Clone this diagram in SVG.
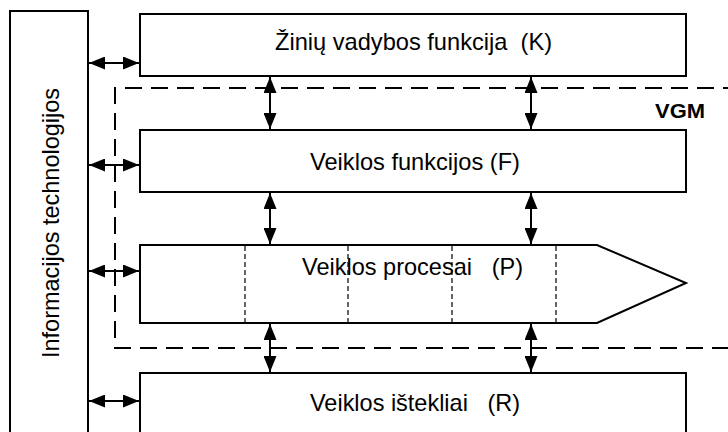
<svg xmlns="http://www.w3.org/2000/svg" width="728" height="432" viewBox="0 0 728 432">
  <defs>
    <marker id="head" viewBox="0 0 16 13" refX="16" refY="6.5" markerWidth="16" markerHeight="13" markerUnits="userSpaceOnUse" orient="auto-start-reverse">
      <path d="M0,0 L16,6.5 L0,13 z" fill="#000"/>
    </marker>
  </defs>
  <style>
    .box { fill: #fff; stroke: #000; stroke-width: 2; }
    .lbl { font-family: "Liberation Sans", Arial, sans-serif; font-size: 23.6px; fill: #000; white-space: pre; }
    .vgm { font-family: "Liberation Sans", Arial, sans-serif; font-size: 20px; font-weight: bold; fill: #000; }
    .frame { fill: none; stroke: #000; stroke-width: 2; stroke-dasharray: 17 9; }
    .step { stroke: #333; stroke-width: 1.5; stroke-dasharray: 5 3; }
    .link { stroke: #000; stroke-width: 2; marker-start: url(#head); marker-end: url(#head); }
  </style>
  <rect width="728" height="432" fill="#fff"/>

  <!-- information technologies column -->
  <g id="it">
    <path class="box" d="M10,440 V11 H88 V440"/>
    <text class="lbl" transform="translate(59,223) rotate(-90)" text-anchor="middle" textLength="270" lengthAdjust="spacingAndGlyphs">Informacijos technologijos</text>
  </g>

  <!-- knowledge management function -->
  <g id="k">
    <rect class="box" x="140" y="14" width="546" height="62"/>
    <text class="lbl" x="275" y="50" xml:space="preserve" textLength="277" lengthAdjust="spacingAndGlyphs">Žinių vadybos funkcija  (K)</text>
  </g>

  <!-- VGM boundary -->
  <g id="vgm">
    <path class="frame" d="M740,88 H115 V348 H740"/>
    <text class="vgm" x="655" y="118" textLength="50" lengthAdjust="spacingAndGlyphs">VGM</text>
  </g>

  <!-- business functions -->
  <g id="f">
    <rect class="box" x="140" y="130" width="546" height="62"/>
    <text class="lbl" x="310" y="170" xml:space="preserve" textLength="210" lengthAdjust="spacingAndGlyphs">Veiklos funkcijos (F)</text>
  </g>

  <!-- business processes -->
  <g id="p">
    <path class="box" d="M140,245 H597 L686,283 L597,323 H140 Z"/>
    <line class="step" x1="245" y1="246" x2="245" y2="322"/>
    <line class="step" x1="348" y1="246" x2="348" y2="322"/>
    <line class="step" x1="452" y1="246" x2="452" y2="322"/>
    <line class="step" x1="556" y1="246" x2="556" y2="322"/>
    <text class="lbl" x="302" y="275" xml:space="preserve" textLength="221" lengthAdjust="spacingAndGlyphs">Veiklos procesai   (P)</text>
  </g>

  <!-- business resources -->
  <g id="r">
    <path class="box" d="M140,440 V373 H686 V440"/>
    <text class="lbl" x="310" y="411" xml:space="preserve" textLength="210" lengthAdjust="spacingAndGlyphs">Veiklos ištekliai   (R)</text>
  </g>

  <!-- connectors -->
  <g id="connectors">
    <line class="link" x1="89" y1="63" x2="139" y2="63"/>
    <line class="link" x1="89" y1="165" x2="139" y2="165"/>
    <line class="link" x1="89" y1="271" x2="139" y2="271"/>
    <line class="link" x1="89" y1="401" x2="139" y2="401"/>
    <line class="link" x1="270" y1="77" x2="270" y2="129"/>
    <line class="link" x1="531" y1="77" x2="531" y2="129"/>
    <line class="link" x1="270" y1="193" x2="270" y2="244"/>
    <line class="link" x1="531" y1="193" x2="531" y2="244"/>
    <line class="link" x1="270" y1="324" x2="270" y2="372"/>
    <line class="link" x1="531" y1="324" x2="531" y2="372"/>
  </g>
</svg>
